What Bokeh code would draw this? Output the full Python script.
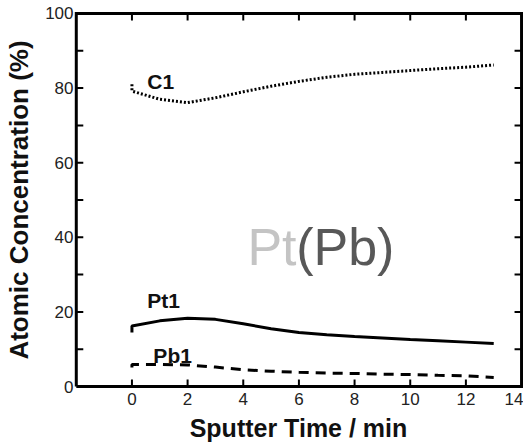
from bokeh.plotting import figure
from bokeh.models import FixedTicker, Range1d
from bokeh.core.properties import value
from bokeh.embed import file_html
from bokeh.resources import INLINE

# Data
c1_time = [0, 0, 1, 2, 3, 4, 5, 6, 7, 8, 9, 10, 11, 12, 13]
c1_conc = [81.0, 79.2, 77.0, 76.1, 77.4, 79.0, 80.5, 81.8, 82.9, 83.7, 84.2, 84.7, 85.2, 85.6, 86.2]

pt1_time = [0, 0, 1, 2, 3, 4, 5, 6, 7, 8, 9, 10, 11, 12, 13]
pt1_conc = [14.5, 16.2, 17.6, 18.3, 18.0, 16.8, 15.5, 14.5, 13.9, 13.4, 13.0, 12.6, 12.3, 11.9, 11.5]

pb1_time = [0, 0, 1, 2, 3, 4, 5, 6, 7, 8, 9, 10, 11, 12, 13]
pb1_conc = [5.1, 5.9, 5.9, 5.8, 5.2, 4.5, 4.1, 3.8, 3.6, 3.5, 3.3, 3.2, 3.0, 2.9, 2.4]

x_ticks = [0, 2, 4, 6, 8, 10, 12, 14]
y_labels = [0, 20, 40, 60, 80, 100]
y_ticks = [10, 20, 30, 40, 50, 60, 70, 80, 90]

X_MIN, X_MAX = -2, 14
Y_MIN, Y_MAX = 0, 100

FONT = "Liberation Sans"
NAN = float("nan")

# ranges padded slightly so the drawn box sits just inside the plotting frame
p = figure(width=523, height=446, x_range=Range1d(-2.1, 14.07), y_range=Range1d(-0.8, 100.8),
           output_backend="svg", toolbar_location=None,
           min_border_left=73, min_border_right=0, min_border_top=10, min_border_bottom=57)
p.xgrid.visible = False
p.ygrid.visible = False
p.outline_line_color = None

p.line(c1_time, c1_conc, line_color="black", line_width=3, line_dash="2 2")
p.line(pt1_time, pt1_conc, line_color="black", line_width=3)
p.line(pb1_time, pb1_conc, line_color="black", line_width=3, line_dash="10 7")

# axes box as one polyline
p.line(x=[X_MIN, X_MAX, X_MAX, X_MIN, X_MIN], y=[Y_MIN, Y_MIN, Y_MAX, Y_MAX, Y_MIN],
       line_color="black", line_width=3, line_join="miter")

# inward tick marks (about 7 px long), one polyline broken by NaN
tx = 7 / 27.8
ty = 7 / 3.73
tick_x, tick_y = [], []
for t in x_ticks:
    if X_MIN < t < X_MAX:
        tick_x += [t, t, NAN, t, t, NAN]
        tick_y += [Y_MIN, Y_MIN + ty, NAN, Y_MAX, Y_MAX - ty, NAN]
for t in y_ticks:
    tick_x += [X_MIN, X_MIN + tx, NAN, X_MAX, X_MAX - tx, NAN]
    tick_y += [t, t, NAN, t, t, NAN]
p.line(x=tick_x, y=tick_y, line_color="black", line_width=2)

xa = p.xaxis[0]
xa.ticker = FixedTicker(ticks=x_ticks)
ya = p.yaxis[0]
ya.ticker = FixedTicker(ticks=y_labels)
for ax in (xa, ya):
    ax.axis_line_color = None
    ax.major_tick_in = 0
    ax.major_tick_out = 0
    ax.minor_tick_in = 0
    ax.minor_tick_out = 0
    ax.major_label_text_font = FONT
    ax.major_label_text_font_size = "17px"
    ax.major_label_text_color = "#222222"
    ax.axis_label_text_font = FONT
    ax.axis_label_text_font_style = "bold"
    ax.axis_label_text_color = "#111111"

xa.major_label_standoff = 3
xa.axis_label = "Sputter Time / min"
xa.axis_label_text_font_size = "25px"
xa.axis_label_standoff = 6

ya.major_label_standoff = 0
ya.axis_label = "Atomic Concentration (%)"
ya.axis_label_text_font_size = "26px"
ya.axis_label_standoff = 8

# series names and the sample annotation
name_x = [0.55, 0.55, 0.77]
name_y = [81.8, 23.0, 8.3]
names = ["C1", "Pt1", "Pb1"]
p.text(x=name_x, y=name_y, text=names, text_font=value(FONT), text_font_size="21px",
       text_font_style="bold", text_color="#111111", text_align="left", text_baseline="alphabetic")
p.text(x=[4.15], y=[37.3], text=["Pt"], text_font=value(FONT), text_font_size="52px",
       text_color="#c4c4c4", text_align="left", text_baseline="alphabetic")
p.text(x=[5.90], y=[37.3], text=["(Pb)"], text_font=value(FONT), text_font_size="52px",
       text_color="#585858", text_align="left", text_baseline="alphabetic")

open("out.html", "w").write(file_html(p, INLINE))
